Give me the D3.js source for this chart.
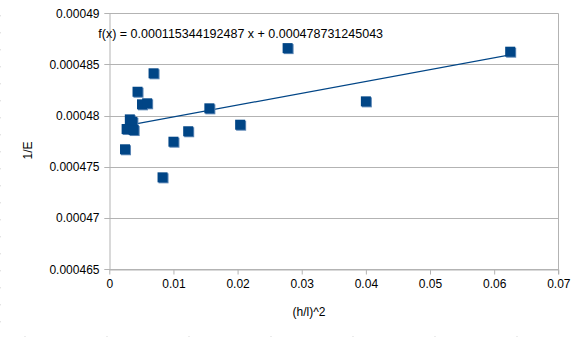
<!DOCTYPE html>
<html><head><meta charset="utf-8">
<script src="https://cdn.jsdelivr.net/npm/d3@7"></script>
<style>
html,body{margin:0;padding:0;background:#fff;}
svg{display:block;font-family:"Liberation Sans",Arial,sans-serif;}
</style></head>
<body><svg id="c" width="579" height="338"></svg>
<script>
const xValues = [0.0625, 0.0278, 0.0400, 0.0204, 0.0156, 0.0123, 0.0100, 0.0083, 0.0069, 0.0044, 0.0051, 0.0059, 0.0032, 0.0036, 0.0027, 0.0038, 0.00245];
const yValues = [0.00048625, 0.0004866, 0.0004814, 0.00047912, 0.00048072, 0.00047848, 0.00047746, 0.00047398, 0.00048414, 0.00048234, 0.00048111, 0.00048121, 0.00047964, 0.00047940, 0.00047870, 0.00047860, 0.00047672];
const slope = 0.000115344192487;
const intercept = 0.000478731245043;
const equation = "f(x) = 0.000115344192487 x + 0.000478731245043";
const xTicks = [0, 0.01, 0.02, 0.03, 0.04, 0.05, 0.06, 0.07];
const yTicks = [0.000465, 0.00047, 0.000475, 0.00048, 0.000485, 0.00049];
const xTickLabels = ["0", "0.01", "0.02", "0.03", "0.04", "0.05", "0.06", "0.07"];
const yTickLabels = ["0.000465", "0.00047", "0.000475", "0.00048", "0.000485", "0.00049"];
const xTitle = "(h/l)^2";
const yTitle = "1/E";

const svg = d3.select("#c");
const L = 109.3, R = 558.3, T = 13.3, B = 269.3;
const x = d3.scaleLinear().domain([0, 0.07]).range([L, R]);
const y = d3.scaleLinear().domain([0.000465, 0.00049]).range([B, T]);
const grid = "#b3b3b3";

// faint spreadsheet cell marks
const g0 = svg.append("g").attr("fill", "#d9d9d9");
d3.range(15.3, 338, 17).forEach(v => g0.append("rect").attr("x", 0).attr("y", v).attr("width", 1).attr("height", 1));
d3.range(24.5, 579, 82).forEach(v => g0.append("rect").attr("x", v).attr("y", 336).attr("width", 1).attr("height", 1));

// gridlines
svg.append("g").selectAll("line").data(yTicks).join("line")
  .attr("x1", L - 5).attr("x2", R)
  .attr("y1", d => Math.round(y(d)) + 0.5).attr("y2", d => Math.round(y(d)) + 0.5)
  .attr("stroke", grid).attr("stroke-width", 1);
// right border
svg.append("line").attr("x1", Math.round(R) + 0.5).attr("x2", Math.round(R) + 0.5)
  .attr("y1", T).attr("y2", B + 5).attr("stroke", grid);

// axes
const xAxis = d3.axisBottom(x).tickValues(xTicks).tickFormat((d, i) => xTickLabels[i]).tickSize(5).tickSizeOuter(0);
const gx = svg.append("g").attr("transform", `translate(0,${Math.round(B) + 0.5})`).call(xAxis);
gx.select(".domain").attr("stroke", grid);
gx.selectAll(".tick line").attr("stroke", grid);
gx.selectAll(".tick text").attr("font-size", 12).attr("fill", "#000").attr("font-family", "Liberation Sans, Arial, sans-serif").attr("dy", "0.9em");

const yAxis = d3.axisLeft(y).tickValues(yTicks).tickFormat((d, i) => yTickLabels[i]).tickSize(5).tickSizeOuter(0);
const gy = svg.append("g").attr("transform", `translate(${Math.round(L) + 0.5},0)`).call(yAxis);
gy.select(".domain").attr("stroke", grid);
gy.selectAll(".tick line").attr("stroke", "none");
gy.selectAll(".tick text").attr("font-size", 12).attr("fill", "#000").attr("font-family", "Liberation Sans, Arial, sans-serif").attr("x", -10);

// trend line
const xmin = d3.min(xValues), xmax = d3.max(xValues);
svg.append("line")
  .attr("x1", x(xmin)).attr("y1", y(slope * xmin + intercept))
  .attr("x2", x(xmax)).attr("y2", y(slope * xmax + intercept))
  .attr("stroke", "#004586").attr("stroke-width", 1.2);

// markers
const pts = xValues.map((v, i) => [v, yValues[i]]);
const s = 10;
svg.append("g").selectAll("rect.sh").data(pts).join("rect")
  .attr("x", d => x(d[0]) - s / 2 + 1).attr("y", d => y(d[1]) - s / 2 + 1)
  .attr("width", s).attr("height", s).attr("fill", "#5b86b5");
svg.append("g").selectAll("rect.mk").data(pts).join("rect")
  .attr("x", d => x(d[0]) - s / 2).attr("y", d => y(d[1]) - s / 2)
  .attr("width", s).attr("height", s).attr("fill", "#004586");

// equation
svg.append("text").attr("x", 98.3).attr("y", 38.3).attr("font-size", 12.5).attr("fill", "#000")
  .text(equation);

// titles
svg.append("text").attr("x", 309).attr("y", 316).attr("text-anchor", "middle").attr("font-size", 12).attr("fill", "#000").text(xTitle);
svg.append("text").attr("transform", "translate(32,150.5) rotate(-90)").attr("text-anchor", "middle").attr("font-size", 12).attr("fill", "#000").text(yTitle);
</script></body></html>
